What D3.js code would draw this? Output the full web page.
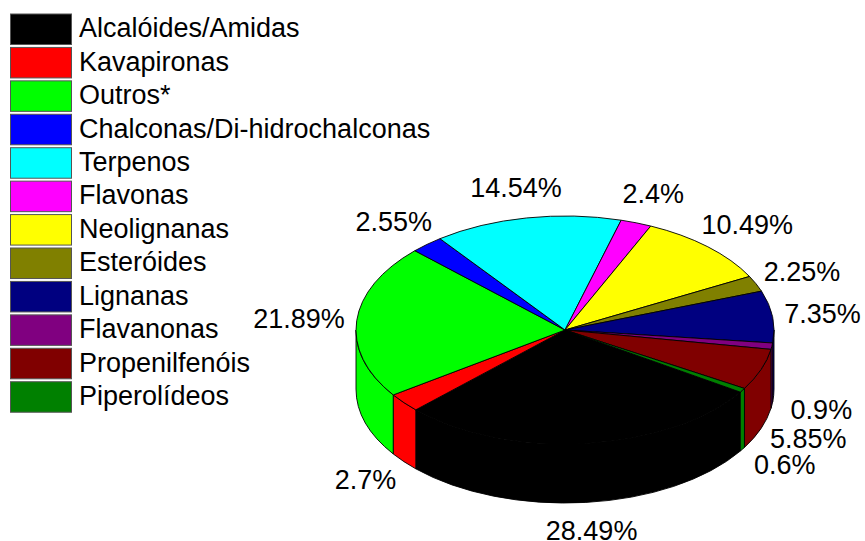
<!DOCTYPE html>
<html>
<head>
<meta charset="utf-8">
<script src="https://cdn.jsdelivr.net/npm/d3@7"></script>
<style>
  html, body { margin: 0; padding: 0; background: #fff; }
  svg { display: block; }
  text { font-family: "Liberation Sans", Arial, sans-serif; fill: #000; }
</style>
</head>
<body>
<svg id="chart" width="865" height="541"></svg>
<script>
// ---- data ----
const categories = [
  "Alcalóides/Amidas", "Kavapironas", "Outros*", "Chalconas/Di-hidrochalconas",
  "Terpenos", "Flavonas", "Neolignanas", "Esteróides", "Lignanas",
  "Flavanonas", "Propenilfenóis", "Piperolídeos"
];
const values = [28.49, 2.7, 21.89, 2.55, 14.54, 2.4, 10.49, 2.25, 7.35, 0.9, 5.85, 0.6];
const valueLabels = ["28.49%", "2.7%", "21.89%", "2.55%", "14.54%", "2.4%", "10.49%", "2.25%", "7.35%", "0.9%", "5.85%", "0.6%"];
const colors = ["#000000", "#ff0000", "#00ff00", "#0000ff", "#00ffff", "#ff00ff",
                "#ffff00", "#808000", "#000080", "#800080", "#800000", "#008000"];

// ---- layout ----
const W = 865, H = 541;
const cx = 565, cy = 330, rx = 209, ry = 114, depth = 59;
const startDeg = 123; // d3 pie angle (0 = 12 o'clock, clockwise)
const fontSize = 27;

const svg = d3.select("#chart");

const pie = d3.pie().sort(null).value(d => d)
  .startAngle(startDeg * Math.PI / 180)
  .endAngle(startDeg * Math.PI / 180 + 2 * Math.PI);
const arcs = pie(values);

// ellipse point from parametric angle theta (y-down, from +x)
const ex = t => cx + rx * Math.cos(t);
const ey = t => cy + ry * Math.sin(t);

// ---- side faces (front half: theta in [0, PI] mod 2PI) ----
const sideG = svg.append("g");
arcs.forEach((d, i) => {
  const t1 = d.startAngle - Math.PI / 2;
  const t2 = d.endAngle - Math.PI / 2;
  for (let k = -1; k <= 2; k++) {
    const lo = Math.max(t1, 2 * Math.PI * k);
    const hi = Math.min(t2, 2 * Math.PI * k + Math.PI);
    if (hi - lo > 1e-6) {
      const s = `M${ex(lo)},${ey(lo)} A${rx},${ry} 0 0 1 ${ex(hi)},${ey(hi)} ` +
                `L${ex(hi)},${ey(hi) + depth} A${rx},${ry} 0 0 0 ${ex(lo)},${ey(lo) + depth} Z`;
      sideG.append("path")
        .attr("d", s)
        .attr("fill", colors[i])
        .attr("stroke", "#000")
        .attr("stroke-width", 0.9)
        .attr("stroke-linejoin", "round");
    }
  }
});

// ---- top faces ----
const arcGen = d3.arc().innerRadius(0).outerRadius(rx);
svg.append("g")
  .attr("transform", `translate(${cx},${cy}) scale(1,${ry / rx})`)
  .selectAll("path")
  .data(arcs)
  .join("path")
  .attr("d", arcGen)
  .attr("fill", (d, i) => colors[i])
  .attr("stroke", "#000")
  .attr("stroke-width", 0.9)
  .attr("stroke-linejoin", "round")
  .attr("vector-effect", "non-scaling-stroke");

// ---- value labels ----
const labG = svg.append("g");
arcs.forEach((d, i) => {
  const t = (d.startAngle + d.endAngle) / 2 - Math.PI / 2;
  const c = Math.cos(t), s = Math.sin(t);
  const txt = labG.append("text")
    .attr("font-size", fontSize)
    .attr("text-anchor", "middle")
    .text(valueLabels[i]);
  const w = txt.node().getComputedTextLength();
  const dx = 12, dy = s < 0 ? 18 : 15;
  const hx = Math.max(w / 2, 38), hy = 13;
  const x = cx + (rx + dx) * c + hx * c;
  const y = cy + (ry + dy) * s + hy * s + (s > 0 ? depth : 0);
  txt.attr("x", x).attr("y", y + 0.36 * fontSize);
});

// ---- legend ----
const legX = 10.5, legY = 14, pitch = 33.43, boxW = 61, boxH = 30.5;
const leg = svg.append("g");
categories.forEach((name, i) => {
  const y = legY + i * pitch;
  leg.append("rect")
    .attr("x", legX).attr("y", y)
    .attr("width", boxW).attr("height", boxH)
    .attr("fill", colors[i])
    .attr("stroke", "#555").attr("stroke-width", 1);
  leg.append("text")
    .attr("x", 79).attr("y", y + 23.3)
    .attr("font-size", fontSize)
    .text(name);
});
</script>
</body>
</html>
